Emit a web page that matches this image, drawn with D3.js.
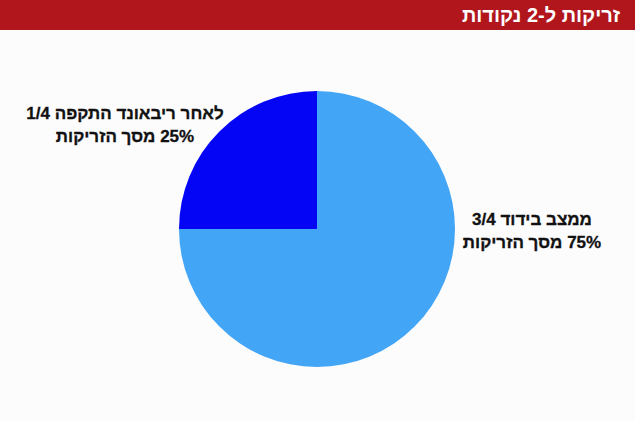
<!DOCTYPE html>
<html>
<head>
<meta charset="utf-8">
<script src="https://cdn.jsdelivr.net/npm/d3@7"></script>
<style>
  html, body { margin: 0; padding: 0; background: #fdfcfd; }
  svg { display: block; }
  .lbl { font-family: "Liberation Sans", Arial, sans-serif; font-weight: bold; font-size: 17px; fill: #111; stroke: #111; stroke-width: 0.3px; }
</style>
</head>
<body>
<div id="canvas"></div>
<script>
var title = 'זריקות ל-2 נקודות'
var Val = [75, 25]
var Colors = ['#42a5f5', '#0505f5']
var Labels = [
  ['ממצב בידוד 3/4', '75% מסך הזריקות'],
  ['לאחר ריבאונד התקפה 1/4', '25% מסך הזריקות']
]

var width = 635
var height = 421

//    圓心 / 半徑
var cx = 317
var cy = 229
var radius = 138

let Svg = d3.select('#canvas')
  .append('svg')
  .attr('width', width)
  .attr('height', height)

Svg.append('rect')
  .attr('width', width).attr('height', height)
  .style('fill', '#fdfcfd')

//    標題列
Svg.append('rect')
  .attr('width', width).attr('height', 30)
  .style('fill', '#b1161d')

Svg.append('text')
  .attr('x', 620).attr('y', 22)
  .attr('direction', 'rtl')
  .attr('text-anchor', 'start')
  .style('font-family', '"Liberation Sans", Arial, sans-serif')
  .style('font-weight', 'bold')
  .style('font-size', '20px')
  .style('fill', '#fff')
  .text(title)

let pie = d3.pie().sort(null)
let arc = d3.arc().innerRadius(0).outerRadius(radius)

let g = Svg.append('g').attr('transform', 'translate(' + cx + ',' + cy + ')')

g.selectAll('path')
  .data(pie(Val))
  .enter()
  .append('path')
  .attr('d', arc)
  .style('fill', (d, i) => Colors[i])

//    標籤
let labelPos = [[532, 225], [125, 119]]

Labels.forEach(function (lines, i) {
  let t = Svg.append('text')
    .attr('class', 'lbl')
    .attr('direction', 'rtl')
    .attr('text-anchor', 'middle')
  lines.forEach(function (s, j) {
    t.append('tspan')
      .attr('x', labelPos[i][0])
      .attr('y', labelPos[i][1] + j * 23)
      .text(s)
  })
})
</script>
</body>
</html>
